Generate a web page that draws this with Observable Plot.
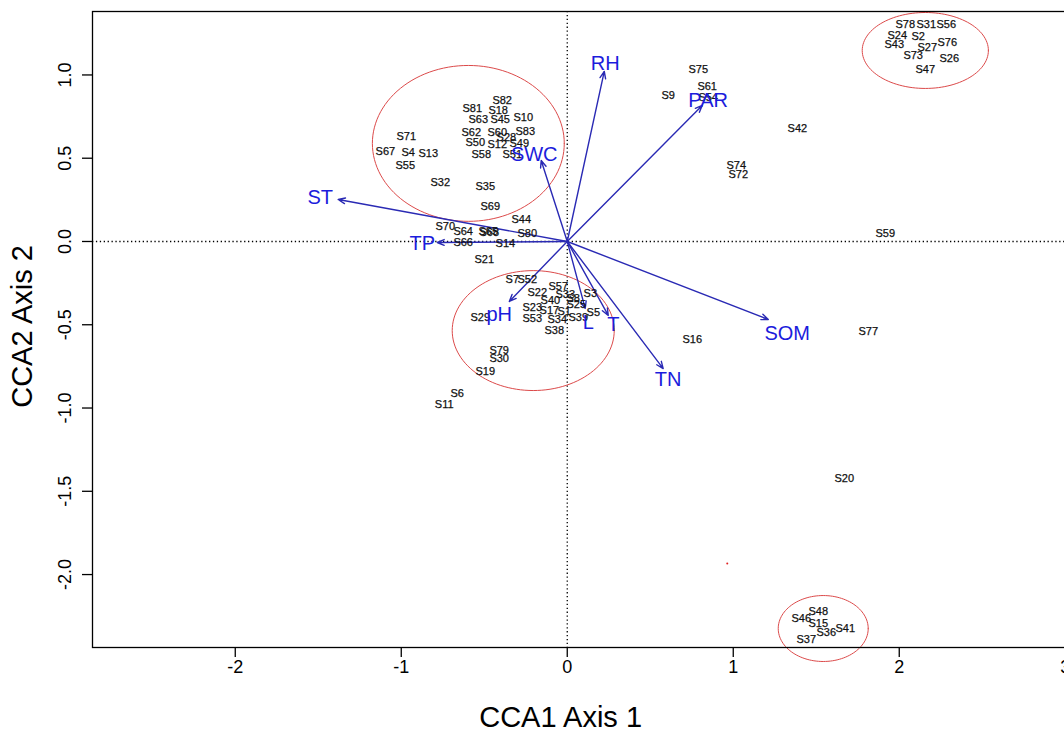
<!DOCTYPE html>
<html><head><meta charset="utf-8">
<script src="https://cdn.jsdelivr.net/npm/d3@7"></script>
<script src="https://cdn.jsdelivr.net/npm/@observablehq/plot@0.6"></script>
<style>html,body{margin:0;padding:0;overflow:hidden;background:#fff;} #chart{width:1100px;} #chart svg{display:block;max-width:none !important;width:1100px !important;height:732px !important;}</style>
</head><body><div id="chart"></div>
<script>
// Site scores (CCA1, CCA2)
const siteNames = ["S78","S31","S56","S24","S2","S43","S27","S76","S73","S26","S47",
"S48","S46","S15","S36","S41","S37",
"S20","S77","S59","S16","S42","S74","S72","S75","S61","S9","S54",
"S82","S81","S18","S63","S45","S10","S62","S60","S83","S28","S49","S50","S12","S58","S51","S71","S67","S4","S13","S55","S32","S35","S69",
"S70","S64","S65","S68","S44","S80","S66","S14","S21",
"S7","S52","S57","S22","S33","S3","S40","S8","S25","S5","S23","S17","S1","S53","S34","S39","S38","S29","S79","S30","S19","S6","S11"];
const siteCCA1 = [2.036,2.163,2.283,1.988,2.114,1.970,2.169,2.289,2.084,2.301,2.157,
1.512,1.410,1.512,1.560,1.675,1.440,
1.669,1.813,1.916,0.753,1.386,1.018,1.030,0.789,0.843,0.608,0.849,
-0.392,-0.572,-0.416,-0.536,-0.404,-0.265,-0.578,-0.422,-0.253,-0.367,-0.289,-0.554,-0.422,-0.518,-0.331,-0.970,-1.096,-0.958,-0.837,-0.976,-0.765,-0.494,-0.464,
-0.735,-0.627,-0.476,-0.470,-0.277,-0.241,-0.627,-0.373,-0.500,
-0.331,-0.241,-0.054,-0.181,-0.012,0.139,-0.102,0.036,0.054,0.157,-0.211,-0.108,-0.018,-0.211,-0.060,0.066,-0.078,-0.524,-0.410,-0.410,-0.494,-0.663,-0.741];
const siteCCA2 = [1.303,1.303,1.303,1.237,1.231,1.183,1.165,1.195,1.117,1.099,1.033,
-2.222,-2.264,-2.294,-2.348,-2.324,-2.390,
-1.423,-0.541,0.048,-0.589,0.679,0.456,0.402,1.033,0.931,0.877,0.865,
0.847,0.799,0.787,0.733,0.733,0.745,0.655,0.655,0.661,0.625,0.589,0.595,0.583,0.523,0.523,0.631,0.541,0.535,0.529,0.456,0.354,0.330,0.210,
0.090,0.060,0.060,0.054,0.132,0.048,-0.006,-0.012,-0.108,
-0.228,-0.228,-0.270,-0.306,-0.318,-0.312,-0.354,-0.342,-0.378,-0.426,-0.396,-0.414,-0.420,-0.462,-0.468,-0.456,-0.535,-0.456,-0.655,-0.703,-0.781,-0.913,-0.979];

// Environmental vectors (arrow tips) and label positions
const envNames = ["RH","PAR","SWC","ST","TP","pH","L","T","TN","SOM"];
const envCCA1 = [0.223,0.813,-0.157,-1.380,-0.783,-0.349,0.108,0.247,0.578,1.211];
const envCCA2 = [1.021,0.817,0.486,0.252,-0.006,-0.360,-0.402,-0.444,-0.763,-0.468];
const envLabelCCA1 = [0.229,0.849,-0.199,-1.488,-0.873,-0.410,0.127,0.277,0.608,1.325];
const envLabelCCA2 = [1.069,0.847,0.523,0.264,-0.012,-0.438,-0.486,-0.498,-0.829,-0.553];

// Group ellipses
const groupCX = [-0.596,-0.205,2.157,1.542];
const groupCY = [0.589,-0.535,1.147,-2.324];
const groupRX = [0.578,0.488,0.380,0.271];
const groupRY = [0.468,0.360,0.228,0.198];

// Stray red point
const strayX = [0.964];
const strayY = [-1.934];

const xTicks = [-2,-1,0,1,2,3];
const yTicks = [-2,-1.5,-1,-0.5,0,0.5,1];

const sites = siteNames.map((n,i)=>({name:n,x:siteCCA1[i],y:siteCCA2[i]}));
const envs = envNames.map((n,i)=>({name:n,x:envCCA1[i],y:envCCA2[i],lx:envLabelCCA1[i],ly:envLabelCCA2[i]}));
const ellipsePts = [];
groupCX.forEach((cx,g)=>{
  for (let k=0;k<=120;k++){
    const t = k/120*2*Math.PI;
    ellipsePts.push({g, x: cx + groupRX[g]*Math.cos(t), y: groupCY[g] + groupRY[g]*Math.sin(t)});
  }
});
const fmt = v => String(v);
const fmtY = v => v.toFixed(1);

const blue = "#1c1cdc";
const arrowBlue = "#2a2ab4";

const chart = Plot.plot({
  width: 1100, height: 732,
  marginLeft: 92, marginRight: 15, marginTop: 11, marginBottom: 85,
  x: {domain: [-2.86, 3.122]},
  y: {domain: [-2.438, 1.381]},
  style: {fontFamily: "'Liberation Sans', Arial, sans-serif", background: "#fff", color: "#000"},
  marks: [
    Plot.ruleX([0], {stroke: "#000", strokeWidth: 1.3, strokeDasharray: "1.3,2.6"}),
    Plot.ruleY([0], {stroke: "#000", strokeWidth: 1.3, strokeDasharray: "1.3,2.6"}),
    Plot.line(ellipsePts, {x: "x", y: "y", z: "g", stroke: "#dc4a4a", strokeWidth: 1}),
    Plot.arrow(envs, {x1: () => 0, y1: () => 0, x2: "x", y2: "y", stroke: arrowBlue, strokeWidth: 1.4, headLength: 8, headAngle: 45}),
    Plot.text(sites, {x: "x", y: "y", text: "name", fontSize: 11, fill: "#111", stroke: "#111", strokeWidth: 0.25}),
    Plot.text(envs, {x: "lx", y: "ly", text: "name", fontSize: 20, fill: blue}),
    Plot.dot(strayX.map((x,i)=>({x, y: strayY[i]})), {x: "x", y: "y", r: 1, fill: "#e02020", stroke: null}),
    Plot.frame({stroke: "#000", strokeWidth: 1.3}),
    Plot.axisX({ticks: xTicks, tickSize: 10, tickFormat: () => "", label: null, strokeWidth: 1.3}),
    Plot.axisY({ticks: yTicks, tickSize: 10, tickFormat: () => "", label: null, strokeWidth: 1.3}),
    Plot.text(xTicks, {x: d => d, text: d => fmt(d), frameAnchor: "bottom", lineAnchor: "middle", textAnchor: "middle", dy: 20, fontSize: 18, fill: "#000"}),
    Plot.text(yTicks, {y: d => d, text: d => fmtY(d), frameAnchor: "left", textAnchor: "middle", lineAnchor: "middle", dx: -27, rotate: -90, fontSize: 18, fill: "#000"}),
    Plot.text(["CCA1 Axis 1"], {x: () => -0.04, text: d => d, frameAnchor: "bottom", lineAnchor: "middle", textAnchor: "middle", dy: 70, fontSize: 29, fill: "#000"}),
    Plot.text(["CCA2 Axis 2"], {y: () => -0.51, text: d => d, frameAnchor: "left", textAnchor: "middle", lineAnchor: "middle", dx: -70, rotate: -90, fontSize: 29, fill: "#000"})
  ]
});
document.getElementById("chart").appendChild(chart);
</script>
</body></html>
